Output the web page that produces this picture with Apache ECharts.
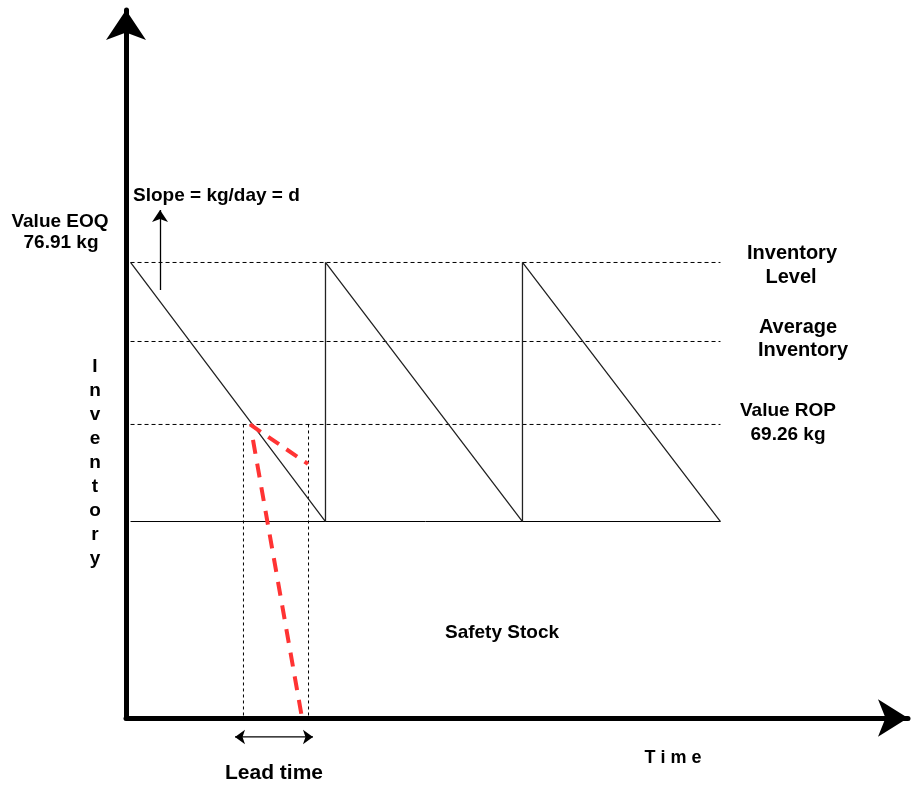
<!DOCTYPE html>
<html>
<head>
<meta charset="utf-8">
<script src="https://cdn.jsdelivr.net/npm/echarts@6/dist/echarts.min.js"></script>
<style>html,body{margin:0;padding:0;background:#fff}#c{width:911px;height:785px}</style>
</head>
<body>
<div id="c"></div>
<script>
// ---- data (abstract units: time 0..100, inventory 0..100) ----
const sawX = [0.58, 25.51, 25.51, 50.70, 50.70, 76.02];
const sawY = [64.34, 27.75, 64.34, 27.75, 64.34, 27.75];
const lineStart = 0.58, lineEnd = 76.02;
const levelEOQ = 64.34, levelAvg = 53.18, levelROP = 41.46, levelSafety = 27.75;
const leadTimeX = [15.02, 23.34];
const redShort = [[15.86, 41.46], [23.27, 35.88]];
const redLong = [[16.24, 39.27], [22.51, 0]];
const slopeArrow = [[4.35, 60.45], [4.35, 71.75]];
const leadArrowX = [13.94, 23.91];
const leadArrowY = -2.68;

const chart = echarts.init(document.getElementById('c'));
const F = '"Liberation Sans", Arial, sans-serif';
function txt(text, x, y, size, opts) {
  opts = opts || {};
  const style = { text: text, font: 'bold ' + size + 'px ' + F, fill: '#000',
    textAlign: opts.align || 'center', align: opts.align || 'center',
    textVerticalAlign: 'middle', verticalAlign: 'middle' };
  if (opts.lineHeight) style.lineHeight = opts.lineHeight;
  return { type: 'text', x: x, y: y, silent: true, style: style };
}
const dash = [4, 3];
function hline(v, type) {
  return { type: 'line', data: [[lineStart, v], [lineEnd, v]], symbol: 'none', silent: true,
    lineStyle: { color: '#000', width: 1, type: type } };
}
chart.setOption({
  animation: false,
  backgroundColor: '#fff',
  grid: { left: 126, right: 3, top: 10, bottom: 67 },
  xAxis: { type: 'value', min: 0, max: 100, splitLine: { show: false }, axisTick: { show: false }, axisLabel: { show: false },
    axisLine: { show: true, symbol: ['none', 'arrow'], symbolSize: [28, 30], lineStyle: { color: '#000', width: 5 } } },
  yAxis: { type: 'value', min: 0, max: 100, splitLine: { show: false }, axisTick: { show: false }, axisLabel: { show: false },
    axisLine: { show: true, symbol: ['none', 'arrow'], symbolSize: [30, 30], lineStyle: { color: '#000', width: 5 } } },
  series: [
    hline(levelEOQ, dash),
    hline(levelAvg, dash),
    hline(levelROP, dash),
    hline(levelSafety, 'solid'),
    { type: 'line', data: [[leadTimeX[0], levelROP], [leadTimeX[0], 0]], symbol: 'none', silent: true,
      lineStyle: { color: '#000', width: 1, type: [3, 3] } },
    { type: 'line', data: [[leadTimeX[1], levelROP], [leadTimeX[1], 0]], symbol: 'none', silent: true,
      lineStyle: { color: '#000', width: 1, type: [3, 3] } },
    { type: 'line', data: sawX.map((x, i) => [x, sawY[i]]), symbol: 'none', silent: true,
      lineStyle: { color: '#222', width: 1.3 } },
    { type: 'line', data: redShort, symbol: 'none', silent: true,
      lineStyle: { color: '#ff3333', width: 4, type: [13, 9] } },
    { type: 'line', data: redLong, symbol: 'none', silent: true,
      lineStyle: { color: '#ff3333', width: 4, type: [14, 10] } },
    { type: 'line', clip: false, silent: true, showAllSymbol: true,
      itemStyle: { color: '#000' },
      lineStyle: { color: '#000', width: 1.3 },
      data: [
        { value: [leadArrowX[0], leadArrowY], symbol: 'arrow', symbolSize: [11, 10], symbolRotate: 90 },
        { value: [leadArrowX[1], leadArrowY], symbol: 'arrow', symbolSize: [11, 10], symbolRotate: -90 }
      ] },
    { type: 'line', data: [], clip: false, silent: true,
      markLine: { silent: true, animation: false, label: { show: false },
        lineStyle: { color: '#000', width: 1.3, type: 'solid' },
        data: [
          [{ coord: slopeArrow[0], symbol: 'none' }, { coord: slopeArrow[1], symbol: 'arrow', symbolSize: [12, 12] }]
        ] } }
  ],
  graphic: [
    txt('Slope = kg/day = d', 133, 196, 19, { align: 'left' }),
    txt('Value EOQ', 60, 222, 19),
    txt('76.91 kg', 61, 243, 19),
    txt('Inventory', 792, 253, 20),
    txt('Level', 791, 277, 20),
    txt('Average', 798, 327, 20),
    txt('Inventory', 803, 350, 20),
    txt('Value ROP', 788, 411, 19),
    txt('69.26 kg', 788, 435, 19),
    txt('Safety Stock', 502, 633, 19),
    txt('T i m e', 673, 758, 18),
    txt('Lead time', 274, 773, 21),
    txt('I\nn\nv\ne\nn\nt\no\nr\ny', 95, 463, 19, { lineHeight: 24 })
  ]
});
</script>
</body>
</html>
